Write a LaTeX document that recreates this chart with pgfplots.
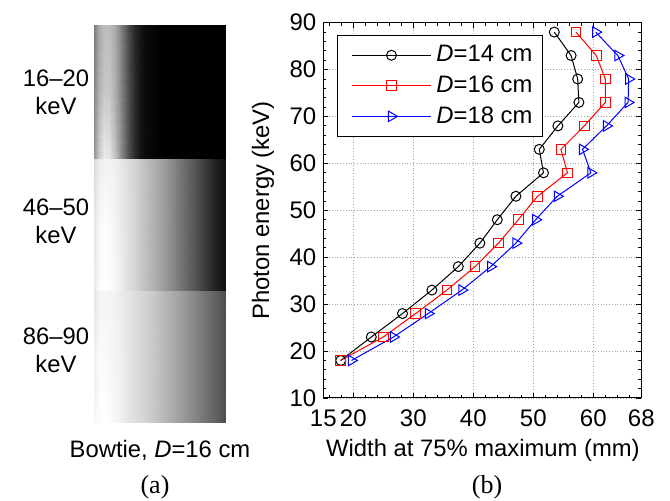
\documentclass[border=0pt]{standalone}
\usepackage{fontspec}
\setmainfont{Liberation Sans}
\newfontfamily\timesfont{Liberation Serif}
\usepackage{pgfplots}
\pgfplotsset{compat=1.18}
\newcommand{\lbl}{\fontsize{11.9}{14}\selectfont}
\newcommand{\tck}{\fontsize{12}{14}\selectfont}
\definecolor{matRed}{RGB}{255,0,0}
\definecolor{matBlue}{RGB}{0,0,255}

\begin{document}
\begin{tikzpicture}
\path[use as bounding box] (0,0) rectangle (335pt,250.5pt);

% (a) bowtie image, three energy bands
\begin{axis}[
  at={(47pt,39pt)},anchor=south west,
  scale only axis,width=66pt,height=199pt,
  view={0}{90},hide axis,
  xmin=0,xmax=132,ymin=0,ymax=398,
  colormap={bw}{gray=(0) gray=(1)},
  point meta min=0,point meta max=1,
]
\addplot3[surf,shader=interp,mesh/cols=19,point meta=explicit] coordinates {
(0,0,0)[0.96] (5,0,0)[0.99] (10,0,0)[1.00] (15,0,0)[0.99] (20,0,0)[0.97] (25,0,0)[0.95] (30,0,0)[0.92] (35,0,0)[0.89] (40,0,0)[0.87] (45,0,0)[0.85] (50,0,0)[0.83] (60,0,0)[0.78] (70,0,0)[0.72] (80,0,0)[0.66] (90,0,0)[0.60] (100,0,0)[0.53] (110,0,0)[0.46] (120,0,0)[0.39] (132,0,0)[0.30]
(0,66,0)[0.94] (5,66,0)[0.98] (10,66,0)[0.98] (15,66,0)[0.97] (20,66,0)[0.96] (25,66,0)[0.94] (30,66,0)[0.92] (35,66,0)[0.89] (40,66,0)[0.87] (45,66,0)[0.85] (50,66,0)[0.83] (60,66,0)[0.78] (70,66,0)[0.72] (80,66,0)[0.66] (90,66,0)[0.60] (100,66,0)[0.53] (110,66,0)[0.46] (120,66,0)[0.39] (132,66,0)[0.30]
(0,133,0)[0.90] (5,133,0)[0.95] (10,133,0)[0.96] (15,133,0)[0.96] (20,133,0)[0.95] (25,133,0)[0.93] (30,133,0)[0.91] (35,133,0)[0.89] (40,133,0)[0.87] (45,133,0)[0.85] (50,133,0)[0.83] (60,133,0)[0.78] (70,133,0)[0.72] (80,133,0)[0.66] (90,133,0)[0.60] (100,133,0)[0.53] (110,133,0)[0.46] (120,133,0)[0.39] (132,133,0)[0.30]
(0,133,0)[0.92] (5,133,0)[0.98] (10,133,0)[1.00] (15,133,0)[0.99] (20,133,0)[0.97] (25,133,0)[0.94] (30,133,0)[0.90] (35,133,0)[0.87] (40,133,0)[0.84] (45,133,0)[0.80] (50,133,0)[0.76] (60,133,0)[0.69] (70,133,0)[0.61] (80,133,0)[0.52] (90,133,0)[0.43] (100,133,0)[0.34] (110,133,0)[0.24] (120,133,0)[0.14] (132,133,0)[0.05]
(0,199,0)[0.90] (5,199,0)[0.97] (10,199,0)[0.99] (15,199,0)[0.98] (20,199,0)[0.96] (25,199,0)[0.93] (30,199,0)[0.90] (35,199,0)[0.87] (40,199,0)[0.84] (45,199,0)[0.80] (50,199,0)[0.76] (60,199,0)[0.69] (70,199,0)[0.61] (80,199,0)[0.52] (90,199,0)[0.43] (100,199,0)[0.34] (110,199,0)[0.24] (120,199,0)[0.14] (132,199,0)[0.05]
(0,265,0)[0.85] (5,265,0)[0.92] (10,265,0)[0.95] (15,265,0)[0.95] (20,265,0)[0.94] (25,265,0)[0.92] (30,265,0)[0.89] (35,265,0)[0.86] (40,265,0)[0.83] (45,265,0)[0.80] (50,265,0)[0.76] (60,265,0)[0.69] (70,265,0)[0.61] (80,265,0)[0.52] (90,265,0)[0.43] (100,265,0)[0.34] (110,265,0)[0.24] (120,265,0)[0.14] (132,265,0)[0.05]
(0,265,0)[0.58] (5,265,0)[0.80] (10,265,0)[0.92] (15,265,0)[0.90] (20,265,0)[0.78] (25,265,0)[0.62] (30,265,0)[0.45] (35,265,0)[0.30] (40,265,0)[0.18] (45,265,0)[0.10] (50,265,0)[0.05] (60,265,0)[0.02] (70,265,0)[0] (80,265,0)[0] (90,265,0)[0] (100,265,0)[0] (110,265,0)[0] (120,265,0)[0] (132,265,0)[0]
(0,332,0)[0.52] (5,332,0)[0.70] (10,332,0)[0.78] (15,332,0)[0.78] (20,332,0)[0.70] (25,332,0)[0.58] (30,332,0)[0.43] (35,332,0)[0.29] (40,332,0)[0.18] (45,332,0)[0.10] (50,332,0)[0.05] (60,332,0)[0.02] (70,332,0)[0] (80,332,0)[0] (90,332,0)[0] (100,332,0)[0] (110,332,0)[0] (120,332,0)[0] (132,332,0)[0]
(0,398,0)[0.48] (5,398,0)[0.66] (10,398,0)[0.74] (15,398,0)[0.74] (20,398,0)[0.68] (25,398,0)[0.56] (30,398,0)[0.42] (35,398,0)[0.28] (40,398,0)[0.17] (45,398,0)[0.10] (50,398,0)[0.05] (60,398,0)[0.02] (70,398,0)[0] (80,398,0)[0] (90,398,0)[0] (100,398,0)[0] (110,398,0)[0] (120,398,0)[0] (132,398,0)[0]
};
\end{axis}

\node[align=center,font=\lbl] at (28pt,204.5pt) {16--20\\keV};
\node[align=center,font=\lbl] at (28pt,140pt) {46--50\\keV};
\node[align=center,font=\lbl] at (28pt,75.5pt) {86--90\\keV};
\node[font=\lbl] at (80pt,25.5pt) {Bowtie, \textit{D}=16 cm};
\node[font=\timesfont\fontsize{13}{15}\selectfont] at (77.5pt,7pt) {(a)};
\node[font=\timesfont\fontsize{13}{15}\selectfont] at (243.5pt,7pt) {(b)};

% (b) width at 75% maximum
\begin{axis}[
  at={(161.65pt,51.5pt)},anchor=south west,
  scale only axis,width=159pt,height=187.65pt,
  xmin=15,xmax=68,ymin=10,ymax=90,
  xtick={15,20,30,40,50,60,68},
  ytick={10,20,...,90},
  minor xtick={16,18,22,24,26,28,32,34,36,38,42,44,46,48,52,54,56,58,62,64,66},
  minor ytick={12,14,16,18,22,24,26,28,32,34,36,38,42,44,46,48,52,54,56,58,62,64,66,68,72,74,76,78,82,84,86,88},
  tick align=inside,
  major tick length=2.5pt,minor tick length=1.5pt,
  every tick/.style={black,line width=0.4pt},
  axis line style={line width=0.5pt},
  grid=major,
  grid style={densely dotted,gray!70,line width=0.4pt},
  tick label style={font=\tck},
  xticklabel style={yshift=-2.5pt},
  /pgf/number format/assume math mode=true,
  xlabel={Width at 75\% maximum (mm)},
  ylabel={Photon energy (keV)},
  label style={font=\lbl},
  xlabel style={at={(axis description cs:0.502,-0.139)},anchor=center},
  ylabel style={at={(axis description cs:-0.19,0.5)},anchor=center},
  legend style={at={(0.043,0.967)},anchor=north west,
    draw=black,line width=0.5pt,fill=white,
    font=\lbl,inner xsep=3pt,inner ysep=3pt,row sep=1.5pt,column sep=0.5pt},
  legend cell align=left,
  legend image code/.code={\path (0pt,0pt);\draw[mark repeat=2,mark phase=2,#1]
    plot coordinates {(4pt,0pt) (23.75pt,0pt) (43.5pt,0pt)};},
]
\addplot[black,line width=0.5pt,mark=o,mark size=2.5pt] coordinates {
(17.9,18) (23.0,23) (28.2,28) (33.1,33) (37.5,38) (41.1,43) (44.0,48) (47.1,53)
(51.7,58) (51.0,63) (54.1,68) (57.6,73) (57.4,78) (56.3,83) (53.5,88)};
\addlegendentry{\textit{D}=14 cm}
\addplot[matRed,line width=0.5pt,mark=square,mark size=2.4pt] coordinates {
(17.9,18) (25.0,23) (30.4,28) (35.6,33) (40.3,38) (44.2,43) (47.5,48) (50.7,53)
(55.7,58) (54.6,63) (58.5,68) (62.0,73) (62.0,78) (60.5,83) (57.1,88)};
\addlegendentry{\textit{D}=16 cm}
\addplot[matBlue,line width=0.5pt,mark=triangle,mark size=3pt,mark options={rotate=-90}] coordinates {
(19.7,18) (26.7,23) (32.5,28) (38.1,33) (42.9,38) (47.1,43) (50.4,48) (54.0,53)
(59.6,58) (58.2,63) (62.2,68) (65.8,73) (65.9,78) (64.1,83) (60.4,88)};
\addlegendentry{\textit{D}=18 cm}
\end{axis}
\end{tikzpicture}
\end{document}
